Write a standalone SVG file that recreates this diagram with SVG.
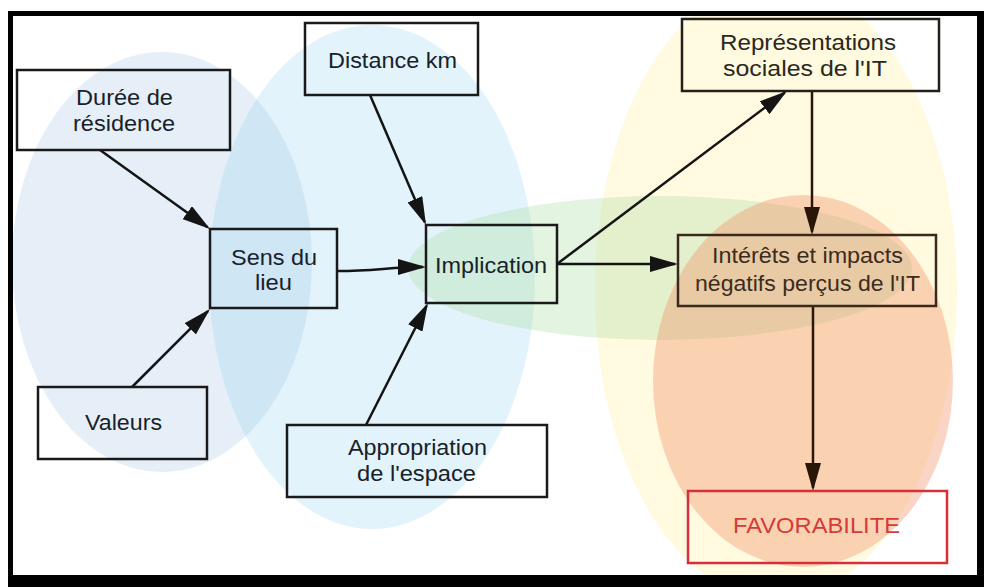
<svg xmlns="http://www.w3.org/2000/svg" width="984" height="587" viewBox="0 0 984 587">
<style>
.box{fill:none;stroke:#1a1a1a;stroke-width:2.5}
.t{font-family:"Liberation Sans",Arial,sans-serif;font-size:22px;fill:#18212b;text-anchor:middle}
.c{fill:none;stroke:#141414;stroke-width:2.5}
.cb{fill:none;stroke:#2a1608;stroke-width:2.5}
</style>
<defs>
<clipPath id="inner"><rect x="13" y="16" width="964" height="559"/></clipPath>
<marker id="ah" viewBox="0 0 28 16" markerUnits="userSpaceOnUse" markerWidth="28" markerHeight="16" refX="25" refY="8" orient="auto"><path d="M0,0 L28,8 L0,16 z" fill="#141414"/></marker>
<marker id="ahb" viewBox="0 0 28 16" markerUnits="userSpaceOnUse" markerWidth="28" markerHeight="16" refX="25" refY="8" orient="auto"><path d="M0,0 L28,8 L0,16 z" fill="#2a1608"/></marker>
</defs>
<rect x="0" y="0" width="984" height="587" fill="#fff"/>
<rect x="8" y="11" width="976" height="576" fill="#000"/>
<rect x="13" y="16" width="964" height="559" fill="#fff"/>
<g id="zones" clip-path="url(#inner)">
<ellipse cx="162" cy="262" rx="150" ry="210" fill="#8fb6df" fill-opacity="0.22"/>
<ellipse cx="372" cy="277" rx="163" ry="252" fill="#7ec8ec" fill-opacity="0.22"/>
<ellipse cx="776" cy="290" rx="181" ry="310" fill="#fff0a0" fill-opacity="0.32"/>
<ellipse cx="660" cy="268" rx="252" ry="72" fill="#a8dca0" fill-opacity="0.32"/>
<ellipse cx="803" cy="381" rx="150" ry="186" fill="#f08a60" fill-opacity="0.36"/>
</g>
<g id="connectors">
<line class="c" x1="100" y1="150" x2="207.6" y2="227.2" marker-end="url(#ah)"/>
<line class="c" x1="132" y1="387" x2="207.9" y2="311.1" marker-end="url(#ah)"/>
<path class="c" d="M338,271 C375,271 390,267 423,267" marker-end="url(#ah)"/>
<line class="c" x1="370" y1="95" x2="424.8" y2="222.2" marker-end="url(#ah)"/>
<line class="c" x1="366" y1="425" x2="426.6" y2="305.7" marker-end="url(#ah)"/>
<line class="c" x1="557" y1="264" x2="784.6" y2="92.8" marker-end="url(#ah)"/>
<line class="c" x1="557" y1="264" x2="675" y2="264" marker-end="url(#ah)"/>
<line class="cb" x1="812" y1="91" x2="812" y2="232" marker-end="url(#ahb)"/>
<line class="cb" x1="813" y1="306" x2="813" y2="488" marker-end="url(#ahb)"/>
</g>
<g id="duree">
<rect class="box" x="17" y="70" width="213" height="80"/>
<text class="t" x="124.5" y="105" textLength="97" lengthAdjust="spacingAndGlyphs">Durée de</text>
<text class="t" x="124" y="131" textLength="102" lengthAdjust="spacingAndGlyphs">résidence</text>
</g>
<g id="distance">
<rect class="box" x="305" y="23" width="173" height="72"/>
<text class="t" x="392.5" y="68" textLength="129" lengthAdjust="spacingAndGlyphs">Distance km</text>
</g>
<g id="sens">
<rect class="box" x="210" y="229" width="127" height="79"/>
<text class="t" x="274" y="265" textLength="86" lengthAdjust="spacingAndGlyphs">Sens du</text>
<text class="t" x="273.5" y="290" textLength="37" lengthAdjust="spacingAndGlyphs">lieu</text>
</g>
<g id="implication">
<rect class="box" x="426" y="225" width="131" height="78"/>
<text class="t" x="491" y="273" textLength="112" lengthAdjust="spacingAndGlyphs">Implication</text>
</g>
<g id="valeurs">
<rect class="box" x="38" y="387" width="169" height="72"/>
<text class="t" x="123.5" y="430" textLength="77" lengthAdjust="spacingAndGlyphs">Valeurs</text>
</g>
<g id="appropriation">
<rect class="box" x="287" y="425" width="260" height="72"/>
<text class="t" x="417.5" y="455" textLength="139" lengthAdjust="spacingAndGlyphs">Appropriation</text>
<text class="t" x="416.5" y="481" textLength="119" lengthAdjust="spacingAndGlyphs">de l'espace</text>
</g>
<g id="representations">
<rect class="box" x="682" y="19" width="257" height="72" style="stroke:#222018"/>
<text class="t" x="808" y="50" textLength="176" lengthAdjust="spacingAndGlyphs" style="fill:#2a2820">Représentations</text>
<text class="t" x="805" y="76" textLength="164" lengthAdjust="spacingAndGlyphs" style="fill:#2a2820">sociales de l'IT</text>
</g>
<g id="interets">
<rect class="box" x="678" y="235" width="258" height="71" style="stroke:#3b2a1c"/>
<text class="t" x="807.5" y="263" textLength="191" lengthAdjust="spacingAndGlyphs" style="fill:#3d2b1d">Intérêts et impacts</text>
<text class="t" x="807.5" y="291" textLength="225" lengthAdjust="spacingAndGlyphs" style="fill:#3d2b1d">négatifs perçus de l'IT</text>
</g>
<g id="favorabilite">
<rect class="box" x="688" y="491" width="259" height="72" style="stroke:#d8303a"/>
<text class="t" x="816.5" y="533" textLength="167" lengthAdjust="spacingAndGlyphs" style="fill:#d63a3a">FAVORABILITE</text>
</g>
</svg>
